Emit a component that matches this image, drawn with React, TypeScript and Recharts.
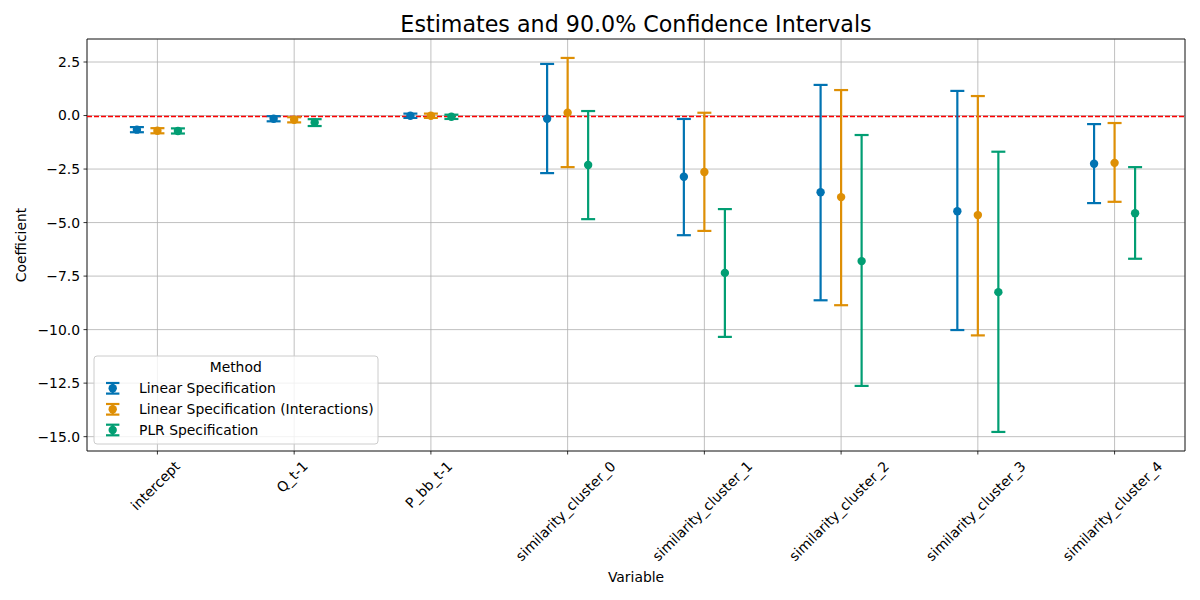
import React from 'react';
import {
  ComposedChart,
  Scatter,
  ErrorBar,
  XAxis,
  YAxis,
  CartesianGrid,
  ReferenceLine,
  ReferenceArea,
} from 'recharts';

const categories = [
  'intercept',
  'Q_t-1',
  'P_bb_t-1',
  'similarity_cluster_0',
  'similarity_cluster_1',
  'similarity_cluster_2',
  'similarity_cluster_3',
  'similarity_cluster_4',
];

const methods = ['Linear Specification', 'Linear Specification (Interactions)', 'PLR Specification'];
const colors = ['#0173b2', '#de8f05', '#029e73'];
const offsets = [-0.15, 0, 0.15];

// estimates and 90% CI bounds
const linearEst = [-0.66, -0.15, -0.01, -0.15, -2.86, -3.58, -4.47, -2.25];
const linearLow = [-0.78, -0.27, -0.11, -2.69, -5.59, -8.63, -10.02, -4.09];
const linearHigh = [-0.54, -0.03, 0.09, 2.41, -0.16, 1.43, 1.15, -0.4];

const interEst = [-0.71, -0.2, -0.01, 0.13, -2.64, -3.81, -4.65, -2.21];
const interLow = [-0.83, -0.32, -0.11, -2.41, -5.39, -8.86, -10.27, -4.03];
const interHigh = [-0.59, -0.08, 0.09, 2.69, 0.13, 1.19, 0.91, -0.35];

const plrEst = [-0.72, -0.32, -0.06, -2.31, -7.35, -6.8, -8.25, -4.56];
const plrLow = [-0.84, -0.49, -0.16, -4.84, -10.34, -12.63, -14.78, -6.69];
const plrHigh = [-0.6, -0.17, 0.04, 0.21, -4.37, -0.91, -1.69, -2.41];

const yTicks = [2.5, 0, -2.5, -5, -7.5, -10, -12.5, -15];
const xTicks = categories.map((_, i) => i);

const X_DOMAIN: [number, number] = [-0.515, 7.515];
const Y_DOMAIN: [number, number] = [-15.67, 3.575];

const FONT = '"DejaVu Sans", sans-serif';

const buildSeries = (est: number[], low: number[], high: number[], k: number) =>
  est.map((v, i) => ({
    x: i + offsets[k],
    y: v,
    err: [v - low[i], high[i] - v],
  }));

const series = [
  buildSeries(linearEst, linearLow, linearHigh, 0),
  buildSeries(interEst, interLow, interHigh, 1),
  buildSeries(plrEst, plrLow, plrHigh, 2),
];

let ctx: CanvasRenderingContext2D | null = null;
const measure = (s: string) => {
  if (!ctx) {
    ctx = document.createElement('canvas').getContext('2d');
    if (ctx) ctx.font = '13.9px "DejaVu Sans"';
  }
  return ctx ? ctx.measureText(s).width : s.length * 6.5;
};

const XTick = (props: any) => {
  const { x, y, payload } = props;
  const label = categories[payload.value] ?? '';
  const w = measure(label);
  const ext = (w + 16.2) / Math.SQRT2;
  const cy = y + ext / 2;
  return (
    <text
      x={x - 2}
      y={cy}
      dy={4.8}
      textAnchor="middle"
      fontSize={13.9}
      fontFamily={FONT}
      fill="#000"
      transform={`rotate(-45, ${x - 2}, ${cy})`}
    >
      {label}
    </text>
  );
};

const fmtY = (v: number) => v.toFixed(1).replace('-', '\u2212');

const Dot = (color: string) => (p: any) => <circle cx={p.cx} cy={p.cy} r={4.2} fill={color} />;

const ZeroLine = (p: any) => (
  <line
    x1={p.x1}
    y1={Math.round(p.y1) + 0.5}
    x2={p.x2}
    y2={Math.round(p.y2) + 0.5}
    stroke="#ff0000"
    strokeWidth={1.3}
    strokeDasharray="5 2"
  />
);

const legendRows = [388.3, 409.3, 430];

const App = () => {
  return (
    <div style={{ position: 'absolute', left: 0, top: 0, width: 1200, height: 600, background: '#fff' }}>
      <ComposedChart width={1200} height={600} margin={{ top: 39, right: 15, bottom: 0, left: 0 }}>
        <CartesianGrid stroke="#b0b0b0" strokeWidth={0.8} />
        <XAxis
          dataKey="x"
          type="number"
          domain={X_DOMAIN}
          ticks={xTicks}
          allowDataOverflow
          height={149}
          tick={<XTick />}
          tickSize={3.5}
          tickMargin={3.5}
          tickLine={{ stroke: '#000', strokeWidth: 0.8 }}
          axisLine={false}
          interval={0}
        />
        <YAxis
          dataKey="y"
          type="number"
          domain={Y_DOMAIN}
          ticks={yTicks}
          allowDataOverflow
          width={87}
          tickFormatter={fmtY}
          tickSize={3.5}
          tickMargin={3.5}
          tick={{ fill: '#000', fontSize: 13.9, fontFamily: FONT }}
          tickLine={{ stroke: '#000', strokeWidth: 0.8 }}
          axisLine={false}
          interval={0}
        />
        <ReferenceLine y={0} stroke="#ff0000" shape={ZeroLine} />
        {series.map((data, k) => (
          <Scatter
            key={methods[k]}
            name={methods[k]}
            data={data}
            fill={colors[k]}
            shape={Dot(colors[k])}
            isAnimationActive={false}
          >
            <ErrorBar
              dataKey="err"
              direction="y"
              width={7}
              stroke={colors[k]}
              strokeWidth={2.2}
              isAnimationActive={false}
            />
          </Scatter>
        ))}
        <ReferenceArea
          x1={X_DOMAIN[0]}
          x2={X_DOMAIN[1]}
          y1={Y_DOMAIN[0]}
          y2={Y_DOMAIN[1]}
          fill="none"
          fillOpacity={0}
          stroke="#000"
          strokeWidth={0.8}
        />
      </ComposedChart>
      <svg
        width={1200}
        height={600}
        style={{ position: 'absolute', left: 0, top: 0, pointerEvents: 'none' }}
        fontFamily={FONT}
      >
        <text x={636} y={31.5} textAnchor="middle" fontSize={22.2} fill="#000">
          Estimates and 90.0% Confidence Intervals
        </text>
        <text x={26} y={245} textAnchor="middle" fontSize={13.9} fill="#000" transform="rotate(-90, 26, 245)">
          Coefficient
        </text>
        <text x={636} y={582} textAnchor="middle" fontSize={13.9} fill="#000">
          Variable
        </text>
        <rect x={94} y={356} width={284} height={88} rx={3} fill="rgba(255,255,255,0.8)" stroke="#cccccc" strokeWidth={1} />
        <text x={235.7} y={371.7} textAnchor="middle" fontSize={13.9} fill="#000">
          Method
        </text>
        {methods.map((m, k) => {
          const cy = legendRows[k];
          return (
            <g key={m}>
              <line x1={112.7} x2={112.7} y1={cy - 5.3} y2={cy + 5.3} stroke={colors[k]} strokeWidth={2.2} />
              <line x1={106} x2={119.4} y1={cy - 5.3} y2={cy - 5.3} stroke={colors[k]} strokeWidth={2.2} />
              <line x1={106} x2={119.4} y1={cy + 5.3} y2={cy + 5.3} stroke={colors[k]} strokeWidth={2.2} />
              <circle cx={112.7} cy={cy} r={4.2} fill={colors[k]} />
              <text x={139} y={cy + 5} fontSize={13.9} fill="#000">
                {m}
              </text>
            </g>
          );
        })}
      </svg>
    </div>
  );
};

export default App;
